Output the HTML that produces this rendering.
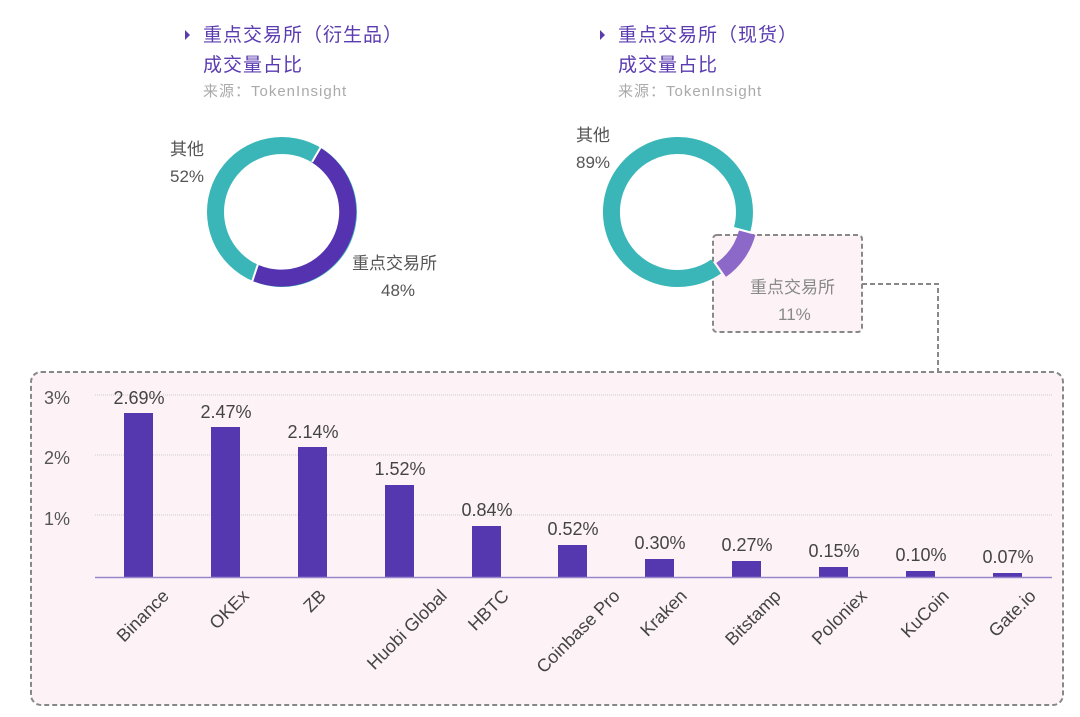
<!DOCTYPE html>
<html><head><meta charset="utf-8"><style>
body{margin:0;background:#fff;}
svg{display:block;font-family:"Liberation Sans","Noto Sans CJK SC",sans-serif;}
</style></head><body>
<svg width="1080" height="717" viewBox="0 0 1080 717">
<!-- titles -->
<path d="M185 30 L190 35 L185 40 Z" fill="#5a3bb0"/>
<text x="203" y="41" font-size="19" fill="#5a3bb0" letter-spacing="1">重点交易所（衍生品）</text>
<text x="203" y="71" font-size="19" fill="#5a3bb0" letter-spacing="1">成交量占比</text>
<text x="203" y="96" font-size="15" fill="#aaa" letter-spacing="1">来源：TokenInsight</text>
<path d="M600 30 L605 35 L600 40 Z" fill="#5a3bb0"/>
<text x="618" y="41" font-size="19" fill="#5a3bb0" letter-spacing="1">重点交易所（现货）</text>
<text x="618" y="71" font-size="19" fill="#5a3bb0" letter-spacing="1">成交量占比</text>
<text x="618" y="96" font-size="15" fill="#aaa" letter-spacing="1">来源：TokenInsight</text>

<!-- left donut -->
<g fill="none" stroke-width="17">
<circle cx="282" cy="212" r="66.5" stroke="#3bb6b8"/>
<path d="M316 155 A66.5 66.5 0 0 1 255.5 273" stroke="#5533b0"/>
</g>
<line x1="322" y1="145" x2="312" y2="162" stroke="#fff" stroke-width="2"/>
<line x1="252" y1="282" x2="258" y2="264" stroke="#fff" stroke-width="2"/>
<text x="170" y="155" font-size="17" fill="#555">其他</text>
<text x="170" y="182" font-size="17" fill="#555">52%</text>
<text x="352" y="269" font-size="17" fill="#555">重点交易所</text>
<text x="381" y="296" font-size="17" fill="#555">48%</text>

<!-- tooltip box -->
<rect x="713" y="235" width="149" height="97" rx="4" fill="#fdf3f7" stroke="#888" stroke-width="2" stroke-dasharray="5,3"/>
<path d="M862 284 H938 V371" fill="none" stroke="#888" stroke-width="2" stroke-dasharray="5,3"/>

<!-- right donut -->
<path d="M716.1 266.5 A66.5 66.5 0 1 1 742.2 229.2" fill="none" stroke="#3bb6b8" stroke-width="17"/>
<path d="M755.4 234.9 A75 75 0 0 1 726 276.9 L716.3 263 A58 58 0 0 0 739 230.5 Z" fill="#8c68c8"/>
<text x="576" y="141" font-size="17" fill="#555">其他</text>
<text x="576" y="168" font-size="17" fill="#555">89%</text>
<text x="750" y="293" font-size="17" fill="#888">重点交易所</text>
<text x="778" y="320" font-size="17" fill="#888">11%</text>

<!-- bar panel -->
<rect x="31" y="372" width="1032" height="333" rx="10" fill="#fdf3f7" stroke="#888" stroke-width="2" stroke-dasharray="5,3"/>
<g stroke="#ccc" stroke-width="1" stroke-dasharray="1,1">
<line x1="95" y1="395" x2="1052" y2="395"/>
<line x1="95" y1="455" x2="1052" y2="455"/>
<line x1="95" y1="515" x2="1052" y2="515"/>
</g>
<g font-size="18" fill="#555" text-anchor="end">
<text x="70" y="404">3%</text>
<text x="70" y="464">2%</text>
<text x="70" y="525">1%</text>
</g>
<g fill="#5538b0">
<rect x="124" y="413" width="29" height="164"/>
<rect x="211" y="427" width="29" height="150"/>
<rect x="298" y="447" width="29" height="130"/>
<rect x="385" y="485" width="29" height="92"/>
<rect x="472" y="526" width="29" height="51"/>
<rect x="558" y="545" width="29" height="32"/>
<rect x="645" y="559" width="29" height="18"/>
<rect x="732" y="561" width="29" height="16"/>
<rect x="819" y="567" width="29" height="10"/>
<rect x="906" y="571" width="29" height="6"/>
<rect x="993" y="573" width="29" height="4"/>
</g>
<line x1="95" y1="577.5" x2="1052" y2="577.5" stroke="#9a86cc" stroke-width="1.5"/>
<g font-size="18" fill="#444" text-anchor="middle">
<text x="139" y="404">2.69%</text>
<text x="226" y="418">2.47%</text>
<text x="313" y="438">2.14%</text>
<text x="400" y="475">1.52%</text>
<text x="487" y="516">0.84%</text>
<text x="573" y="535">0.52%</text>
<text x="660" y="549">0.30%</text>
<text x="747" y="551">0.27%</text>
<text x="834" y="557">0.15%</text>
<text x="921" y="561">0.10%</text>
<text x="1008" y="563">0.07%</text>
</g>
<g font-size="18" fill="#444" text-anchor="end">
<text transform="translate(170,597) rotate(-45)">Binance</text>
<text transform="translate(250,597) rotate(-45)">OKEx</text>
<text transform="translate(327,597) rotate(-45)">ZB</text>
<text transform="translate(448,597) rotate(-45)">Huobi Global</text>
<text transform="translate(510,597) rotate(-45)">HBTC</text>
<text transform="translate(621,597) rotate(-45)">Coinbase Pro</text>
<text transform="translate(688,597) rotate(-45)">Kraken</text>
<text transform="translate(782,597) rotate(-45)">Bitstamp</text>
<text transform="translate(868,597) rotate(-45)">Poloniex</text>
<text transform="translate(950,597) rotate(-45)">KuCoin</text>
<text transform="translate(1037,597) rotate(-45)">Gate.io</text>
</g>
</svg>
</body></html>
